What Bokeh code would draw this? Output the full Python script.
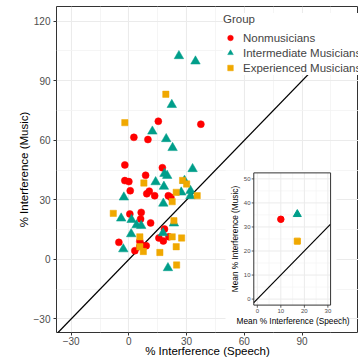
import math
from bokeh.plotting import figure
from bokeh.models import Range1d, FixedTicker, Legend, LegendItem, ColumnDataSource
from bokeh.embed import file_html
from bokeh.resources import INLINE
from bokeh.core.properties import value

# ---------------- data ----------------
groups = ["Nonmusicians", "Intermediate Musicians", "Experienced Musicians"]
group_colors = ["#FF0000", "#009E8A", "#F0A800"]
group_markers = ["circle", "triangle", "square"]

non_speech = [15.3, 37.4, 2.6, 9.9, -2.1, 17.4, 8.7, -2.1, 0.0, 0.7, 10.6, 9.3, 13.4, 20.5,
              21.8, 0.5, 6.4, 6.1, 11.3, 18.5, 15.6, 17.9, 20.8, -5.2, 5.7, 6.4, 9.0, 5.7, 3.1]
non_music = [69.6, 68.1, 61.5, 60.4, 47.6, 46.2, 42.4, 39.7, 39.2, 34.6, 34.4, 33.1, 32.1, 32.1,
             31.3, 22.9, 23.7, 20.4, 18.4, 15.3, 10.8, 9.3, 11.4, 8.6, 9.1, 7.4, 6.9, 6.6, 4.4]

int_speech = [26.0, 34.6, 22.3, 12.2, 19.4, 22.7, 33.1, 18.5, 19.9, 13.9, 28.9, 18.2, 27.2,
              32.0, 32.0, -2.6, 17.9, -4.0, 1.4, 4.0, 6.4, 23.4, 1.2, 17.7, -2.9, 20.3]
int_music = [102.5, 99.8, 77.9, 64.5, 60.7, 56.2, 45.6, 43.2, 42.2, 39.0, 39.7, 36.7, 33.8,
             34.6, 32.0, 31.3, 28.2, 20.7, 20.0, 17.3, 17.0, 18.2, 12.8, 13.3, 5.2, -4.3]

exp_speech = [19.2, -2.1, 7.8, 27.9, 30.0, 24.6, 35.5, 22.5, -8.1, 23.4, 5.7, 22.5, 27.4,
              5.7, 7.5, 16.1, 24.6, 24.8]
exp_music = [83.2, 68.9, 38.5, 39.8, 38.0, 33.8, 32.1, 29.1, 23.2, 19.5, 11.4, 11.4, 10.8,
             6.4, 4.0, 3.5, 6.4, -2.8]

mean_speech = [10.0, 17.0, 17.0]
mean_music = [33.2, 35.3, 24.1]

main_ticks = [-30, 0, 30, 60, 90, 120]
main_minor = [-15, 15, 45, 75, 105]
inset_x_ticks = [0, 10, 20, 30]
inset_y_ticks = [0, 10, 20, 30, 40, 50]
inset_x_minor = [5, 15, 25]
inset_y_minor = [5, 15, 25, 35, 45]

FONT = "Liberation Sans"

# ---------------- main figure ----------------
p = figure(width=358, height=360, x_range=Range1d(-37.6, 119.3), y_range=Range1d(-36.8, 127.4),
           output_backend="svg", toolbar_location=None,
           min_border_left=56, min_border_right=0, min_border_top=6, min_border_bottom=28)
p.background_fill_color = "white"
p.border_fill_color = "white"
p.outline_line_color = "#333333"
p.outline_line_width = 1

for ax in (p.xaxis[0], p.yaxis[0]):
    ax.ticker = FixedTicker(ticks=main_ticks, minor_ticks=main_minor)
    ax.axis_line_color = None
    ax.major_tick_line_color = "#333333"
    ax.major_tick_out = 3
    ax.major_tick_in = 0
    ax.minor_tick_line_color = None
    ax.major_label_text_font = FONT
    ax.major_label_text_font_size = "10px"
    ax.major_label_text_color = "#4D4D4D"
    ax.axis_label_text_font = FONT
    ax.axis_label_text_font_size = "11.5px"
    ax.axis_label_text_font_style = "normal"
    ax.axis_label_text_color = "black"
    ax.major_label_overrides = {-30: "\u221230"}

p.xaxis.axis_label = "% Interference (Speech)"
p.yaxis.axis_label = "% Interference (Music)"
p.xaxis.major_label_standoff = 0
p.xaxis.axis_label_standoff = -3
p.yaxis.major_label_standoff = 2
p.yaxis.axis_label_standoff = 1

p.xgrid.ticker = FixedTicker(ticks=main_ticks, minor_ticks=main_minor)
p.ygrid.ticker = FixedTicker(ticks=main_ticks, minor_ticks=main_minor)
for g in (p.xgrid[0], p.ygrid[0]):
    g.grid_line_color = "#EBEBEB"
    g.grid_line_width = 1.1
    g.minor_grid_line_color = "#F3F3F3"
    g.minor_grid_line_width = 0.8

# identity line
p.line([-40, 130], [-40, 130], line_color="black", line_width=1.3)

# white backdrop of the inset (covers main grid lines)
p.quad(left=[50.2], right=[107.9], bottom=[-36.5], top=[44.8],
       fill_color="white", line_color=None)

renderers = []
for name, col, mk, xs, ys, sz in zip(
        groups, group_colors, group_markers,
        [non_speech, int_speech, exp_speech], [non_music, int_music, exp_music],
        [7, 9.5, 6.3]):
    r = p.scatter(xs, ys, marker=mk, size=sz, fill_color=col, line_color=col, line_width=0.5)
    renderers.append(r)

legend = Legend(items=[LegendItem(label=n, renderers=[r]) for n, r in zip(groups, renderers)],
                location=(167, 257), title="Group")
legend.title_text_font = FONT
legend.title_text_font_size = "11.5px"
legend.title_text_font_style = "normal"
legend.title_standoff = 5
legend.label_text_font = FONT
legend.label_text_font_size = "11.5px"
legend.label_height = 15
legend.glyph_height = 15
legend.glyph_width = 14
legend.label_standoff = 6
legend.spacing = 0
legend.padding = 5
legend.margin = 0
legend.border_line_color = None
legend.background_fill_color = "white"
legend.background_fill_alpha = 1.0
p.add_layout(legend)

# ---------------- inset (sub-coordinates) ----------------
IX0, IX1 = -1.5, 31.15
IY0, IY1 = -2.5, 52.5
ins = p.subplot(x_source=Range1d(IX0, IX1), y_source=Range1d(IY0, IY1),
                x_target=Range1d(64.9, 104.8), y_target=Range1d(-23.0, 43.6))

# grid
ins.segment(x0=inset_x_minor, y0=[IY0] * 3, x1=inset_x_minor, y1=[IY1] * 3,
            line_color="#F3F3F3", line_width=0.7)
ins.segment(x0=[IX0] * 5, y0=inset_y_minor, x1=[IX1] * 5, y1=inset_y_minor,
            line_color="#F3F3F3", line_width=0.7)
ins.segment(x0=inset_x_ticks, y0=[IY0] * 4, x1=inset_x_ticks, y1=[IY1] * 4,
            line_color="#EBEBEB", line_width=1)
ins.segment(x0=[IX0] * 6, y0=inset_y_ticks, x1=[IX1] * 6, y1=inset_y_ticks,
            line_color="#EBEBEB", line_width=1)

# identity line
ins.line([IX0, IX1], [IX0, IX1], line_color="black", line_width=1.2)

# means
src = ColumnDataSource(dict(x=mean_speech, y=mean_music, c=group_colors, m=group_markers,
                            s=[6.5, 8, 6]))
ins.scatter(x="x", y="y", marker="m", size="s", fill_color="c", line_color="c", source=src)

# panel border
ins.quad(left=[IX0], right=[IX1], bottom=[IY0], top=[IY1], fill_color=None,
         line_color="#333333", line_width=1)

# ticks
ins.segment(x0=[IX0 - 0.9] * 6, y0=inset_y_ticks, x1=[IX0] * 6, y1=inset_y_ticks,
            line_color="#333333", line_width=0.8)
ins.segment(x0=inset_x_ticks, y0=[IY0 - 1.1] * 4, x1=inset_x_ticks, y1=[IY0] * 4,
            line_color="#333333", line_width=0.8)

# tick labels
ins.text(x=[IX0 - 1.4] * 6, y=inset_y_ticks, text=[str(t) for t in inset_y_ticks],
         text_align="right", text_baseline="middle", text_font=value(FONT),
         text_font_size="6px", text_color="#4D4D4D")
ins.text(x=inset_x_ticks, y=[IY0 - 1.6] * 4, text=[str(t) for t in inset_x_ticks],
         text_align="center", text_baseline="top", text_font=value(FONT),
         text_font_size="6px", text_color="#4D4D4D")

# axis titles
ins.text(x=[15.2], y=[-9.2], text=["Mean % Interference (Speech)"], text_align="center",
         text_baseline="middle", text_font=value(FONT), text_font_size="8.3px",
         text_color="black")
ins.text(x=[-9.5], y=[25.0], text=["Mean % Interference (Music)"], angle=math.pi / 2,
         text_align="center", text_baseline="middle", text_font=value(FONT),
         text_font_size="8.3px", text_color="black")

open("out.html", "w").write(file_html(p, INLINE))
